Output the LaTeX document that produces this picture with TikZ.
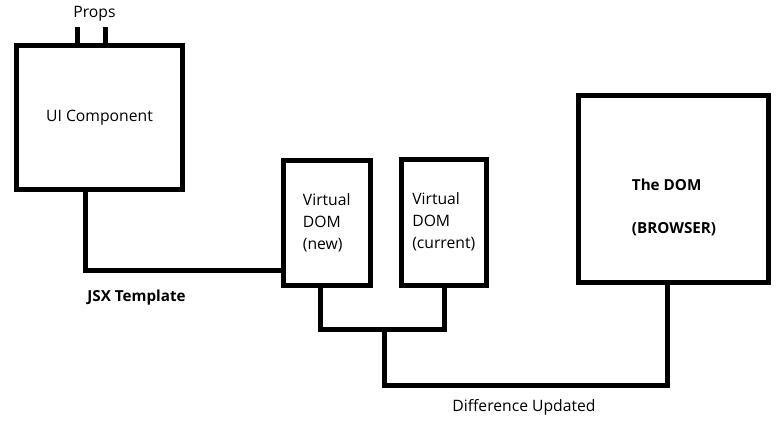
\documentclass[tikz,border=0pt]{standalone}
\usepackage{fontspec}
\setmainfont{Open Sans}
\usepackage{tikz}
\usetikzlibrary{positioning}
\usetikzlibrary{calc}
\tikzstyle{line} = [draw, line width=5pt]

\begin{document}
\begin{tikzpicture}[x=1pt, y=-1pt,
        		internal/.style={draw, rectangle, line width=5pt, inner sep=0pt},
        		txt/.style={font=\fontsize{15.7}{22}\selectfont},
        		every text node part/.style={align=left}]
        		\useasboundingbox (0,0) rectangle (777,428);
        		\node[internal, minimum width=166pt, minimum height=143pt, txt](ui) at (99.5, 117.5) {UI Component};
        		\node[txt](props) at (94.5, 14) {Props};
        		
        		\node[internal, minimum width=86.5pt, minimum height=124.5pt, txt](vnew) at (326.75, 222.75) {Virtual\\DOM\\(new)};
        		\node[internal, minimum width=84.5pt, minimum height=125.5pt, txt](vcur) at (443.75, 222.25) {Virtual\\DOM\\(current)};
        		
        		\node[internal, minimum width=189.5pt, minimum height=186.5pt](dom) at (673.25, 188.75) {};
        		\node[font=\fontsize{15.2}{43}\selectfont\bfseries](domlabel) at (674, 207.5) {The DOM\\(BROWSER)};
        		
        		\node[font=\fontsize{15.2}{22}\selectfont\bfseries](jsx) at (136.5, 298) {JSX Template};
        		\node[txt](diff) at (524, 407) {Difference Updated};
        		
        		\coordinate (p1) at (77, 27);
        		\coordinate (p2) at (105, 27);
        		\coordinate (j) at (85, 270);
        		\coordinate (bnew) at (320.5, 329.5);
        		\coordinate (bcur) at (444, 329.5);
        		\coordinate (u1) at (384, 385.5);
        		\coordinate (u2) at (667, 385.5);
        		
        		\path[line] (p1) -- (p1 |- ui.north);
        		\path[line] (p2) -- (p2 |- ui.north);
        		\path[line] (j |- ui.south) -- (j) -- (j -| vnew.west);
        		\path[line] (bnew |- vnew.south) -- (bnew) -- (bcur) -- (bcur |- vcur.south);
        		\path[line] (u1 |- bnew) -- (u1) -- (u2) -- (u2 |- dom.south);
        	\end{tikzpicture}
\end{document}
